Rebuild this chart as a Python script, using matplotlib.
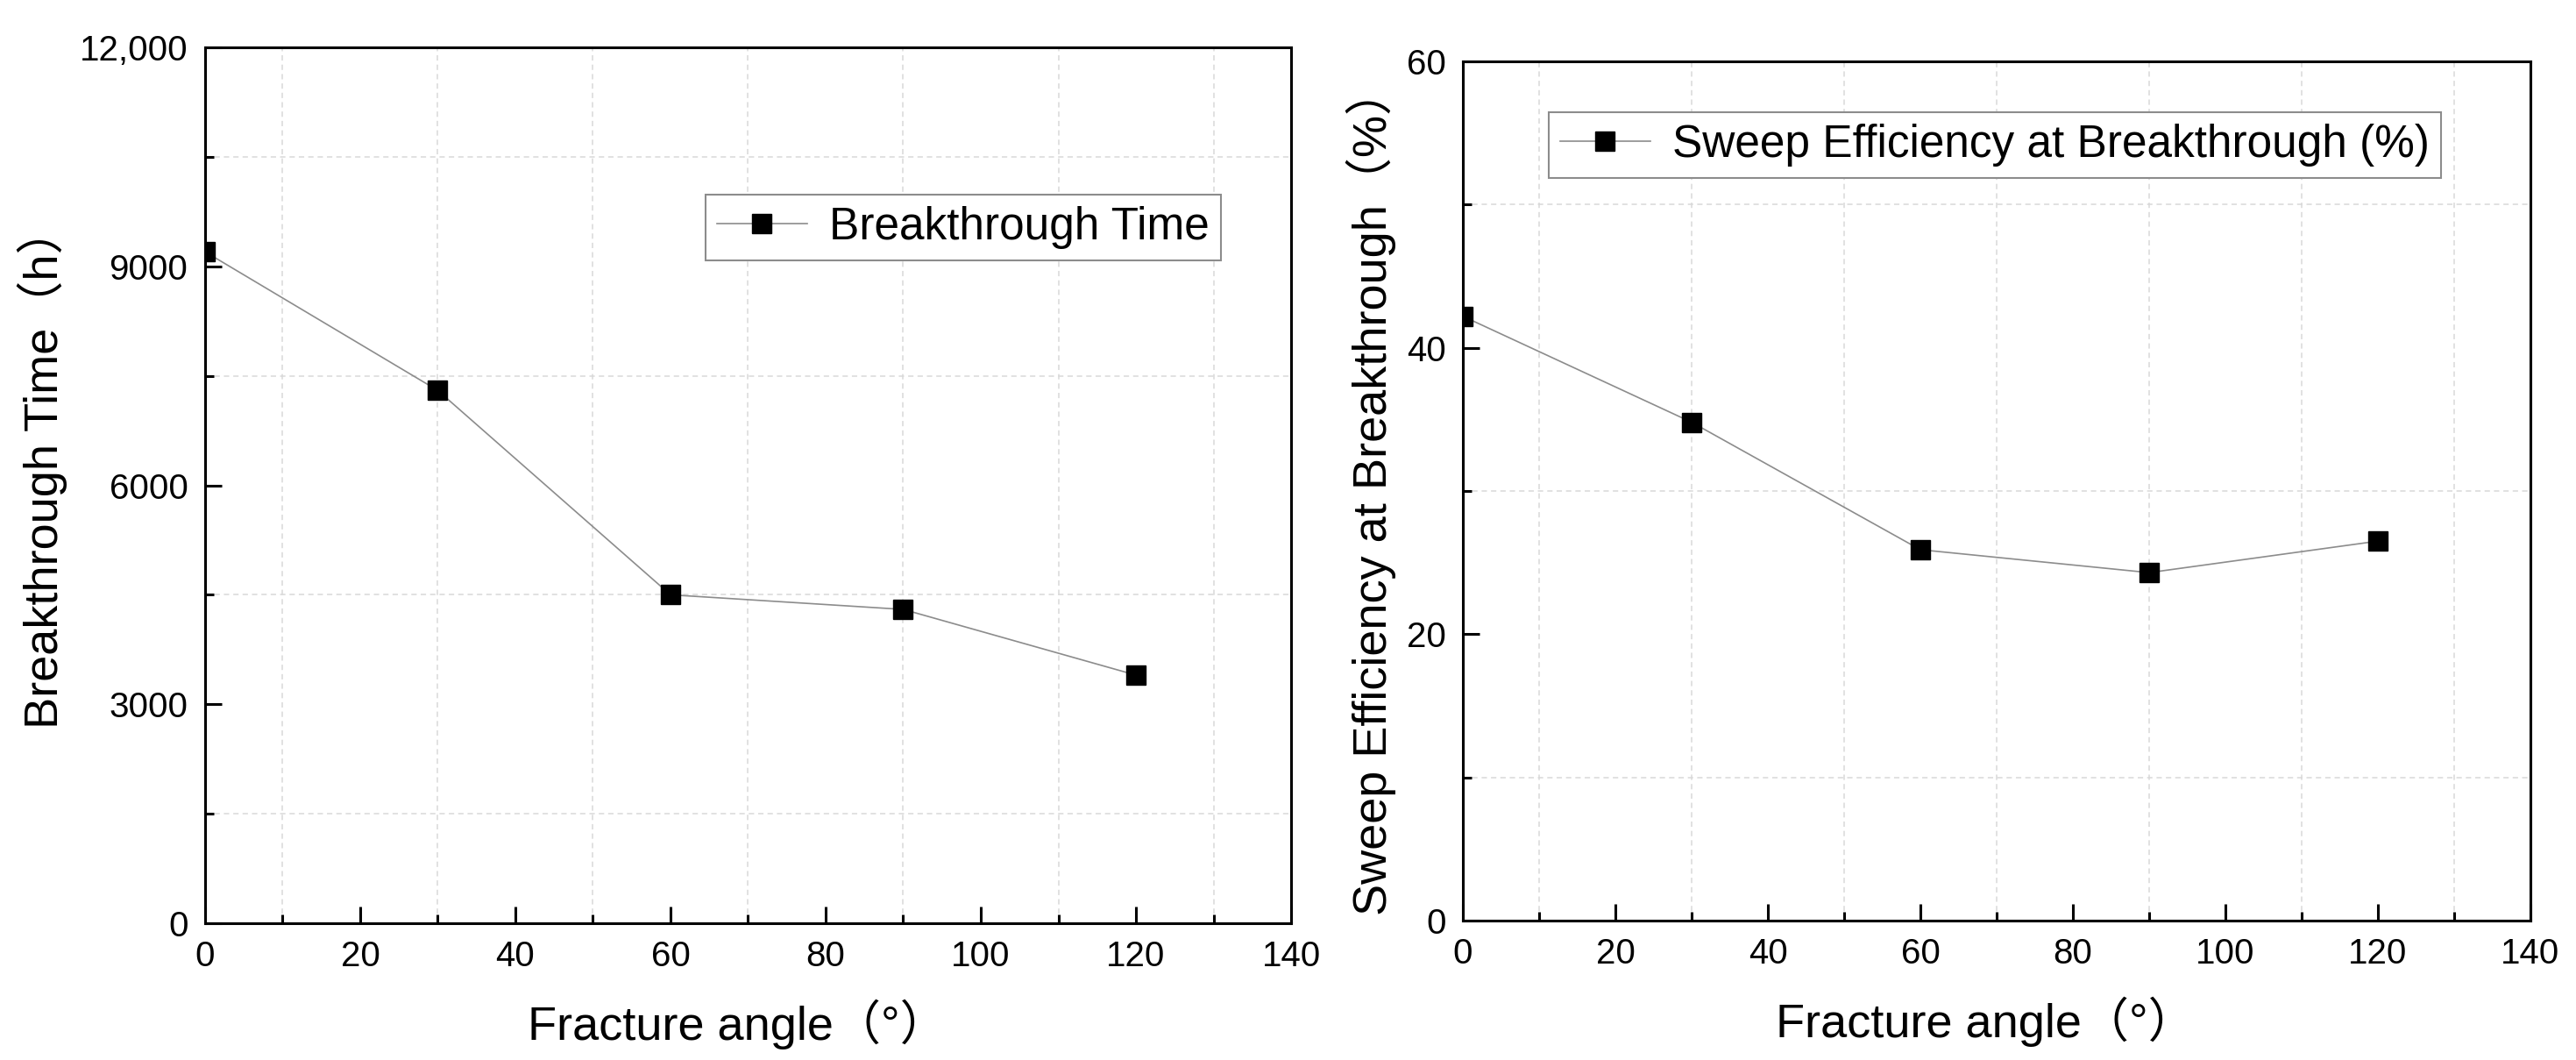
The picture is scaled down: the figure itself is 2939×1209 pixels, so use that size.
import matplotlib
matplotlib.use("Agg")
import matplotlib.pyplot as plt
from matplotlib.ticker import MultipleLocator

plt.rcParams['font.family'] = ['Liberation Sans', 'Noto Sans CJK SC', 'DejaVu Sans']

# fracture angle (deg)
angle = [0, 30, 60, 90, 120]
# breakthrough time (h)
bt_time = [9200, 7300, 4500, 4300, 3400]
# sweep efficiency at breakthrough (%)
sweep_eff = [42.2, 34.8, 25.9, 24.3, 26.5]

left_yticks = [0, 3000, 6000, 9000, 12000]
left_ylabels = ['0', '3000', '6000', '9000', '12,000']
right_yticks = [0, 20, 40, 60]

fig = plt.figure(figsize=(29.39, 12.09), dpi=100)
ax1 = fig.add_axes([0.0796, 0.1290, 0.4216, 0.8263])
ax2 = fig.add_axes([0.5679, 0.1315, 0.4144, 0.8106])


def style_axes(ax, ymax, ymajor, yminor):
    ax.set_xlim(0, 140)
    ax.set_ylim(0, ymax)
    ax.xaxis.set_major_locator(MultipleLocator(20))
    ax.xaxis.set_minor_locator(MultipleLocator(10))
    ax.yaxis.set_major_locator(MultipleLocator(ymajor))
    ax.yaxis.set_minor_locator(MultipleLocator(yminor))
    ax.tick_params(which='both', direction='in', width=2.2, top=False, right=False)
    ax.tick_params(which='major', length=14, labelsize=29, pad=14)
    ax.tick_params(which='minor', length=7)
    ax.grid(which='minor', color='#d9d9d9', linestyle=(0, (4, 3)), linewidth=1.1)
    for s in ax.spines.values():
        s.set_linewidth(2.2)
        s.set_color('black')


style_axes(ax1, 12000, 3000, 1500)
ax1.set_yticks(left_yticks)
ax1.set_yticklabels(left_ylabels)
ax1.plot(angle, bt_time, color='#8c8c8c', linewidth=1.2, marker='s',
         markersize=15.5, markerfacecolor='black', markeredgecolor='black',
         label='Breakthrough Time', zorder=3)
ax1.set_xlabel('Fracture angle（°）', fontsize=39)
ax1.set_ylabel('Breakthrough Time（h）', fontsize=39)
ax1.xaxis.set_label_coords(0.49, -0.087)
ax1.yaxis.set_label_coords(-0.127, 0.52)
leg1 = ax1.legend(loc='upper left', bbox_to_anchor=(0.461, 0.832), borderaxespad=0,
                  fontsize=37, fancybox=False, framealpha=1, edgecolor='#8c8c8c',
                  handlelength=2.0, handletextpad=0.5, borderpad=0.25)
leg1.get_frame().set_linewidth(1.5)

style_axes(ax2, 60, 20, 10)
ax2.set_yticks(right_yticks)
ax2.plot(angle, sweep_eff, color='#8c8c8c', linewidth=1.2, marker='s',
         markersize=15.5, markerfacecolor='black', markeredgecolor='black',
         label='Sweep Efficiency at Breakthrough (%)', zorder=3)
ax2.set_xlabel('Fracture angle（°）', fontsize=39)
ax2.set_ylabel('Sweep Efficiency at Breakthrough（%）', fontsize=39)
ax2.xaxis.set_label_coords(0.49, -0.088)
ax2.yaxis.set_label_coords(-0.0624, 0.5)
leg2 = ax2.legend(loc='upper left', bbox_to_anchor=(0.0805, 0.941), borderaxespad=0,
                  fontsize=37, fancybox=False, framealpha=1, edgecolor='#8c8c8c',
                  handlelength=2.0, handletextpad=0.5, borderpad=0.25)
leg2.get_frame().set_linewidth(1.5)

fig.savefig('out.png', dpi=100)
